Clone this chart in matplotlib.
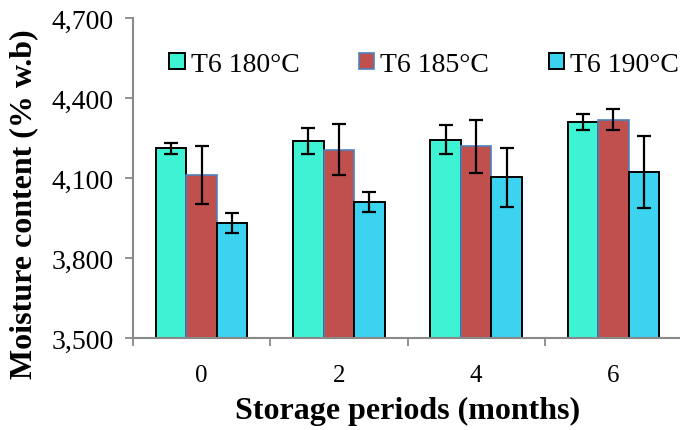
import matplotlib.pyplot as plt
import numpy as np

# data
months = ['0', '2', '4', '6']
t180 = [4211, 4239, 4244, 4310]
t185 = [4111, 4206, 4219, 4319]
t190 = [3930, 4010, 4102, 4122]
t180_err = [20, 49, 55, 30]
t185_err = [110, 96, 100, 40]
t190_err = [37, 36, 110, 135]

plt.rcParams['font.family'] = 'Liberation Serif'

fig = plt.figure(figsize=(6.8, 4.31), dpi=100)
ax = fig.add_axes([133 / 680, 92 / 431, 549 / 680, 320 / 431])

x = np.arange(len(months))
w = 0.222
err_kw = dict(ecolor='black', elinewidth=1.6, capsize=5, capthick=1.6)
ax.bar(x - w, t180, w, yerr=t180_err, color='#3EF2D4', edgecolor='black',
       linewidth=1.4, label='T6 180°C', error_kw=err_kw)
ax.bar(x, t185, w, yerr=t185_err, color='#C0504D', edgecolor='#4F81BD',
       linewidth=1.2, label='T6 185°C', error_kw=err_kw)
ax.bar(x + w, t190, w, yerr=t190_err, color='#3BD3F0', edgecolor='black',
       linewidth=1.4, label='T6 190°C', error_kw=err_kw)

ax.set_ylim(3500, 4700)
ax.set_yticks([3500, 3800, 4100, 4400, 4700])
ax.set_yticklabels(['3,500', '3,800', '4,100', '4,400', '4,700'])
ax.set_xlim(-0.5, 3.5)
ax.set_xticks(x)
ax.set_xticklabels(months)
ax.set_xticks(np.arange(-0.5, 4, 1), minor=True)
ax.tick_params(axis='x', which='major', length=0, pad=19, labelsize=18)
ax.tick_params(axis='x', which='minor', length=6, width=1.3, color='#898989')
ax.tick_params(axis='y', length=6, width=1.3, color='#898989', labelsize=20, pad=8)

for s in ['top', 'right']:
    ax.spines[s].set_visible(False)
for s in ['left', 'bottom']:
    ax.spines[s].set_color('#898989')
    ax.spines[s].set_linewidth(1.5)

ax.set_xlabel('Storage periods (months)', fontsize=23, fontweight='bold', labelpad=7)
ax.set_ylabel('Moisture content (% w.b)', fontsize=23, fontweight='bold')
ax.yaxis.set_label_coords(-0.172, 0.42)

ax.legend(loc='center left', bbox_to_anchor=(0.066, 0.855), ncol=3, frameon=False,
          fontsize=20, handlelength=0.55, handleheight=0.55, handletextpad=0.22,
          columnspacing=2.15, borderpad=0, borderaxespad=0)

fig.savefig('out.png', dpi=100)
